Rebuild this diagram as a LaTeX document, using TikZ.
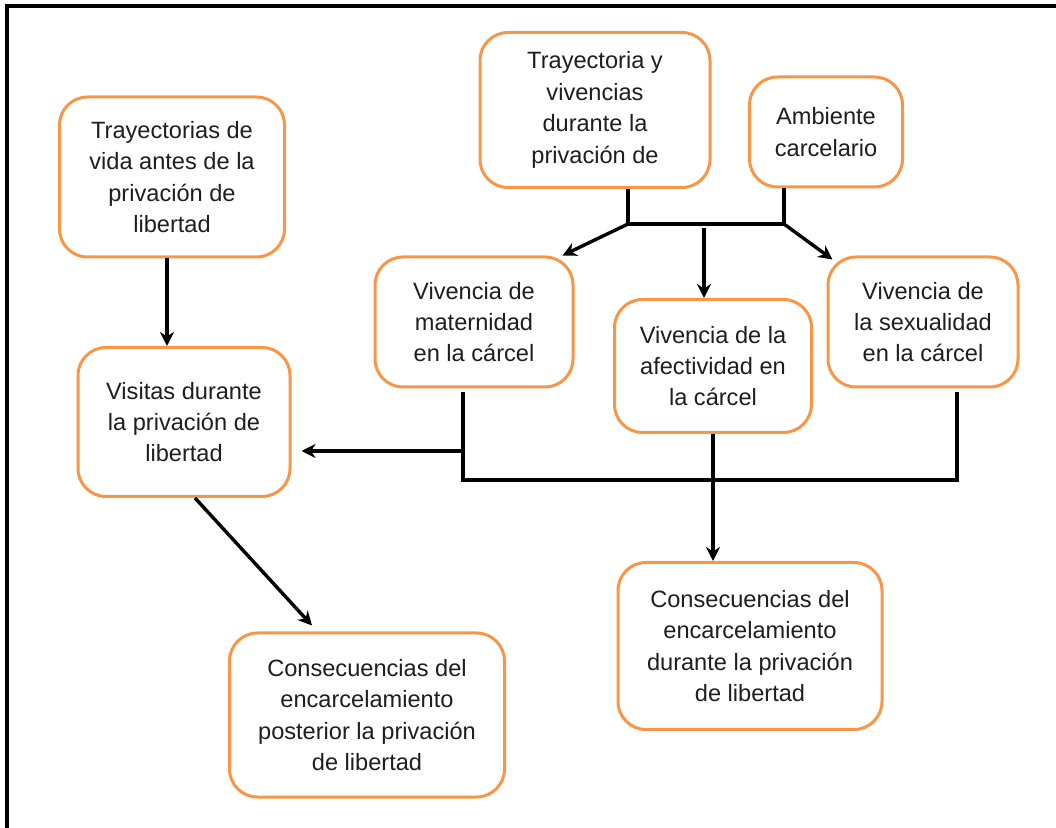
\documentclass[tikz,border=0pt]{standalone}
\usepackage{fontspec}
\setmainfont{Liberation Sans}
\usepackage{xcolor}
\definecolor{carorange}{RGB}{247, 150, 70}
\definecolor{cartext}{RGB}{30, 30, 30}
\usetikzlibrary{arrows.meta, positioning, calc}

\begin{document}
\begin{tikzpicture}[x=0.5pt, y=-0.5pt, >=Stealth,
    font=\fontsize{11.8}{15.7}\selectfont,
    box/.style={rectangle, rounded corners=14pt, draw=carorange, line width=1.5pt, fill=white, text=cartext, align=center, inner sep=2pt},
    link/.style={line width=1.7pt, draw=black},
    arrow/.style={link, -{Stealth[length=7pt, width=7pt]}},
    frame/.style={line width=1.7pt, draw=black}
]
\useasboundingbox (0,0) rectangle (1056,828);

% === Marco ===
\draw[frame] (1056,6) -- (7,6) -- (7,828);

% === Cajas superiores ===
\node[box, minimum width=112.5pt, minimum height=80pt] (tra) at (172,177) {Trayectorias de\\vida antes de la\\privación de\\libertad};
\node[box, minimum width=115pt, minimum height=77.5pt] (tray) at (595,110) {Trayectoria y\\vivencias\\durante la\\privación de};
\node[box, minimum width=76.5pt, minimum height=55pt] (amb) at (826,132) {Ambiente\\carcelario};

% === Vivencias en la carcel ===
\node[box, minimum width=99pt, minimum height=65pt] (mat) at (474,322) {Vivencia de\\maternidad\\en la cárcel};
\node[box, minimum width=98.5pt, minimum height=66.5pt] (afe) at (713,366) {Vivencia de la\\afectividad en\\la cárcel};
\node[box, minimum width=95pt, minimum height=65pt] (sex) at (923,322) {Vivencia de\\la sexualidad\\en la cárcel};

% === Visitas y consecuencias ===
\node[box, minimum width=106pt, minimum height=74.5pt] (vis) at (184,422) {Visitas durante\\la privación de\\libertad};
\node[box, minimum width=137.5pt, minimum height=82pt] (post) at (367,715) {Consecuencias del\\encarcelamiento\\posterior la privación\\de libertad};
\node[box, minimum width=132pt, minimum height=83.5pt] (dur) at (750,646) {Consecuencias del\\encarcelamiento\\durante la privación\\de libertad};

% === Conexiones superiores ===
\coordinate (jl) at (628,224);
\coordinate (jr) at (784,224);
\coordinate (jm) at (704,228);
\draw[link] (tray.south -| jl) -- (jl) -- (jr) -- (amb.south -| jr);
\draw[arrow] (jl) -- ([xshift=-6pt]mat.north east);
\draw[arrow] (jr) -- ([xshift=3pt, yshift=-2pt]sex.north west);
\draw[arrow] (jm) -- (afe.north -| jm);

% === Conexiones inferiores ===
\coordinate (bl) at (463,480);
\coordinate (br) at (957,480);
\coordinate (bv) at (463,451);
\draw[link] ([yshift=-2pt]mat.south -| bl) -- (bl) -- (br) -- ([yshift=-2pt]sex.south -| br);
\draw[arrow, shorten >=5pt] (bv) -- (vis.east |- bv);
\draw[arrow] (afe.south) -- (afe.south |- dur.north);

% === Columna izquierda ===
\draw[arrow] ([xshift=-2.5pt]tra.south) -- ([xshift=-2.5pt]tra.south |- vis.north);
\draw[arrow] ([xshift=5.5pt]vis.south) -- ($(post.north)+(-55,-6)$);

\end{tikzpicture}
\end{document}
